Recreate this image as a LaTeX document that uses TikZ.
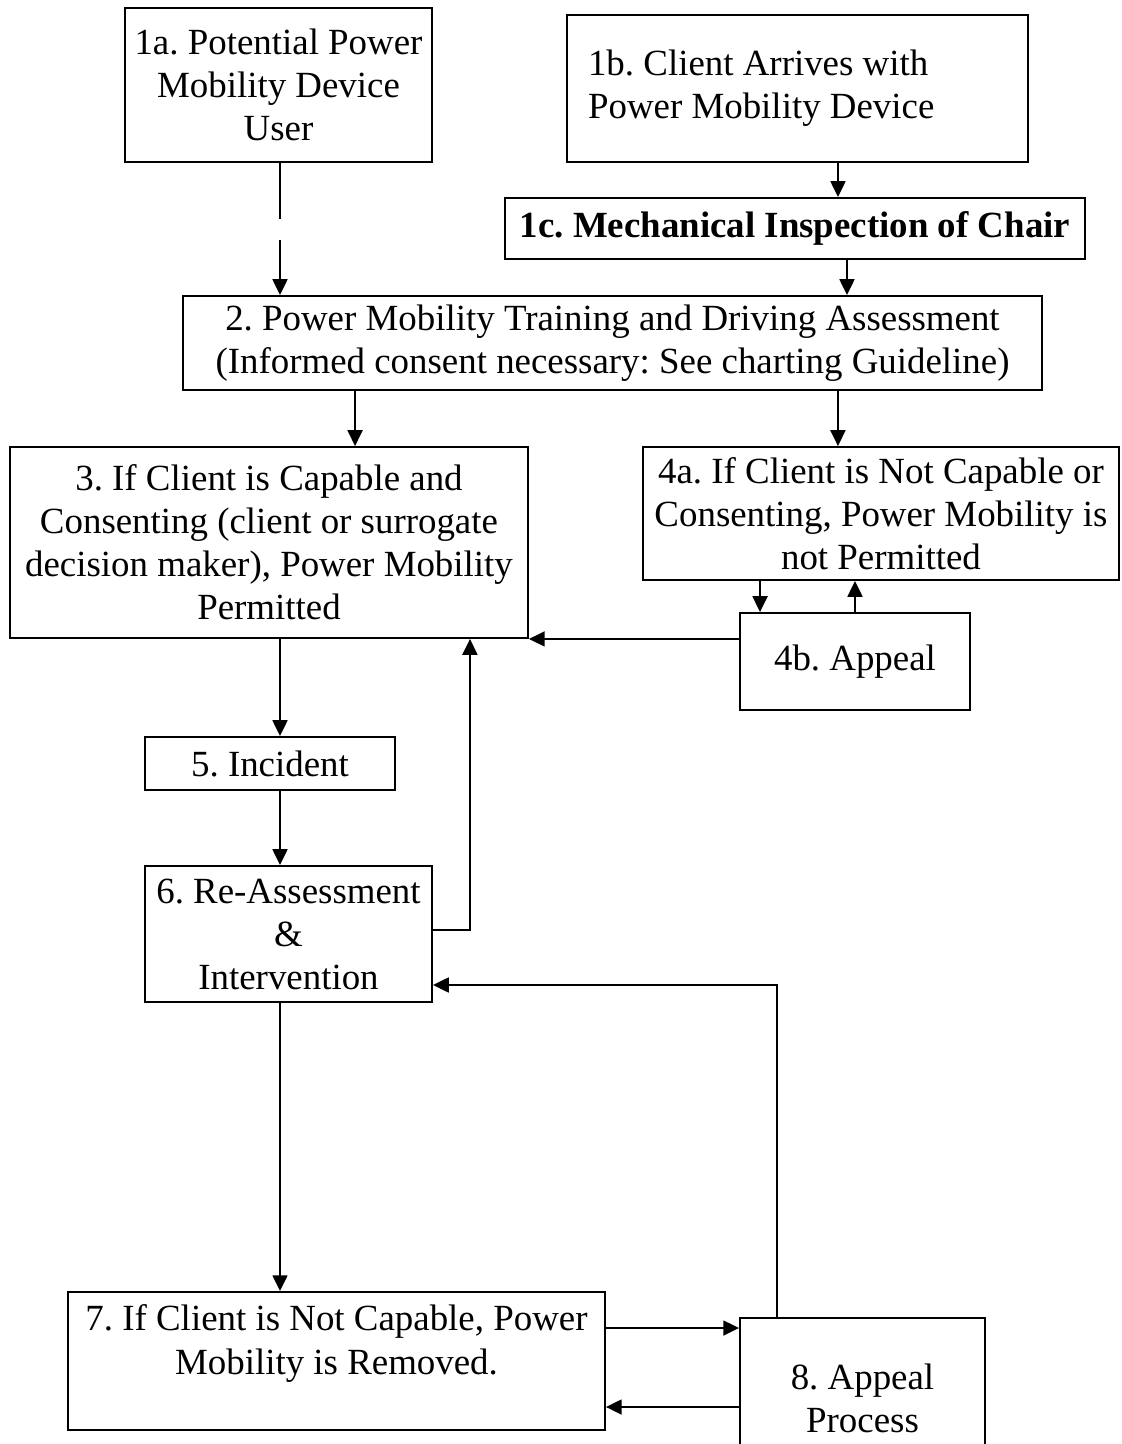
\documentclass[tikz,border=0pt]{standalone}
\usepackage{fontspec}
\setmainfont{Liberation Serif}
\usepackage{tikz}
\usetikzlibrary{arrows.meta}
\frenchspacing

\begin{document}
\begin{tikzpicture}[x=0.02cm,y=-0.02cm,font=\fontsize{21}{24.5}\selectfont]
  \tikzset{stage/.style={draw,line width=1.1pt,inner sep=0pt,align=center},
    flow/.style={-{Triangle[length=9pt,width=8.5pt]},line width=1.1pt}}
  \clip (0,0) rectangle (1122,1444);
  \node[stage,minimum width=6.14cm,minimum height=3.08cm] (user) at (278.5,85) {1a. Potential Power\\Mobility Device\\User};
  \node[stage,align=flush left,text width=8.38cm,inner xsep=0.42cm,minimum height=2.94cm] (arrive) at (797.5,88.5) {1b. Client Arrives with\\Power Mobility Device};
  \node[stage,minimum width=11.6cm,minimum height=1.22cm,font=\fontsize{21}{24.5}\selectfont\bfseries] (inspect) at (795,228.5) {1c. Mechanical Inspection of Chair};
  \node[stage,minimum width=17.18cm,minimum height=1.88cm] (train) at (612.5,343) {2. Power Mobility Training and Driving Assessment\\(Informed consent necessary: See charting Guideline)};
  \node[stage,minimum width=10.36cm,minimum height=3.82cm] (able) at (269,542.5) {3. If Client is Capable and\\Consenting (client or surrogate\\decision maker), Power Mobility\\Permitted};
  \node[stage,minimum width=9.52cm,minimum height=2.66cm] (refuse) at (881,513.5) {4a. If Client is Not Capable or\\Consenting, Power Mobility is\\not Permitted};
  \node[stage,minimum width=4.6cm,minimum height=1.94cm] (appeal) at (855,661.5) {4b. Appeal};
  \node[stage,minimum width=5cm,minimum height=1.06cm] (incident) at (270,763.5) {5. Incident};
  \node[stage,minimum width=5.74cm,minimum height=2.72cm] (reassess) at (288.5,934) {6. Re-Assessment\\\&\\Intervention};
  \node[stage,minimum width=10.74cm,minimum height=2.76cm] (removed) at (336.5,1361) {7. If Client is Not Capable, Power\\Mobility is Removed.\\\mbox{}};
  \node[stage,minimum width=4.9cm,minimum height=3.2cm] (process) at (862.5,1398) {8. Appeal\\Process};

  % main spine on the left
  \coordinate (spine) at (280,0);
  \coordinate (gaptop) at (280,219);
  \coordinate (gapbot) at (280,240);
  \draw[line width=1.1pt] (spine |- user.south) -- (gaptop);
  \draw[flow] (gapbot) -- (gapbot |- train.north);
  \draw[flow] ([xshift=0.81cm]arrive.south) coordinate (p) -- (p |- inspect.north);
  \draw[flow] ([xshift=1.04cm]inspect.south) coordinate (p) -- (p |- train.north);
  \draw[flow] ([xshift=-5.15cm]train.south) coordinate (p) -- (p |- able.north);
  \draw[flow] ([xshift=4.51cm]train.south) coordinate (p) -- (p |- refuse.north);
  \draw[flow] ([xshift=-2.42cm]refuse.south) coordinate (p) -- (p |- appeal.north);
  \draw[flow] (appeal.north) -- (appeal.north |- refuse.south);
  \draw[flow] (able.south east -| appeal.west) -- (able.south east);
  \draw[flow] (spine |- able.south) -- (spine |- incident.north);
  \draw[flow] (spine |- incident.south) -- (spine |- reassess.north);
  \draw[flow] (spine |- reassess.south) -- (spine |- removed.north);
  \draw[flow] ([yshift=0.08cm]reassess.east) -| ([xshift=4.02cm]able.south);
  \draw[flow] ([xshift=-1.71cm]process.north) |- ([yshift=-1.02cm]reassess.east);
  \draw[flow] ([yshift=0.66cm]removed.east) coordinate (p) -- (p -| process.west);
  \path ([yshift=-0.92cm]removed.east) coordinate (q);
  \draw[flow] (q -| process.west) -- (q);
\end{tikzpicture}
\end{document}
